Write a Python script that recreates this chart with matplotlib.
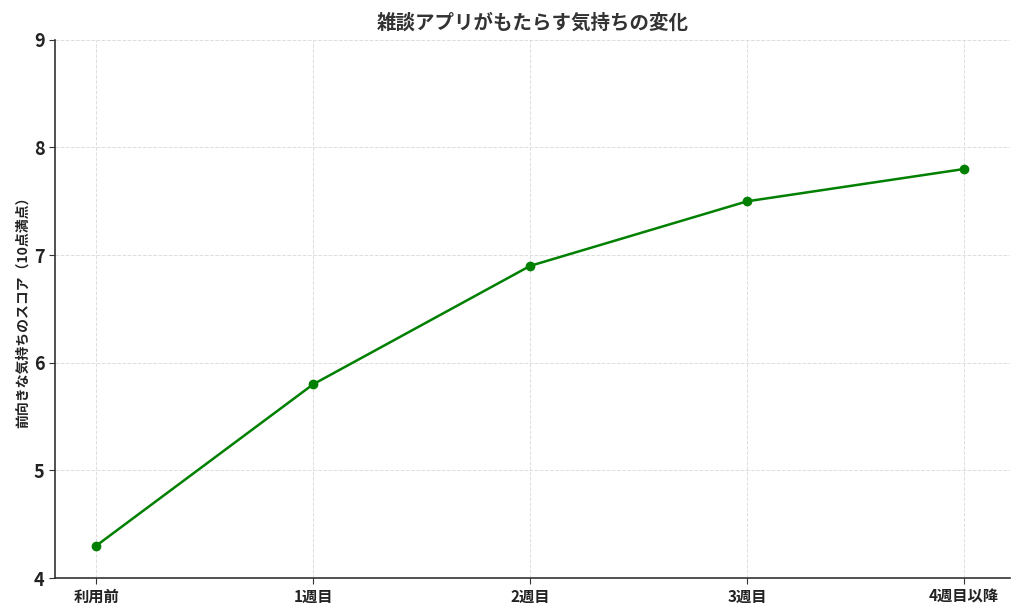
import matplotlib
matplotlib.use("Agg")
import matplotlib.pyplot as plt

categories = ["利用前", "1週目", "2週目", "3週目", "4週目以降"]
scores = [4.3, 5.8, 6.9, 7.5, 7.8]
yticks = [4, 5, 6, 7, 8, 9]

plt.rcParams['font.family'] = ['Noto Sans CJK JP', 'DejaVu Sans']

fig = plt.figure(figsize=(10.24, 6.14), dpi=100)
ax = fig.add_axes([0.0537, 0.0586, 0.9323, 0.8765])

x = list(range(len(categories)))
ax.plot(x, scores, color='green', linewidth=1.8, marker='o', markersize=6)

ax.set_xticks(x)
ax.set_xticklabels(categories, fontsize=11, fontweight='bold', color='#222222')
ax.set_yticks(yticks)
ax.set_yticklabels([str(v) for v in yticks], fontsize=13, fontweight='bold', color='#222222')
ax.set_ylim(4, 9)
ax.set_xlim(-0.19, 4.21)

ax.set_title("雑談アプリがもたらす気持ちの変化", fontsize=14, fontweight='bold', color='#333333', pad=8)
ax.set_ylabel("前向きな気持ちのスコア（10点満点）", fontsize=10, fontweight='bold', color='#222222', labelpad=3)

ax.grid(True, linestyle='--', color='#dddddd', linewidth=0.7)
ax.set_axisbelow(True)
for s in ['top', 'right']:
    ax.spines[s].set_visible(False)
for s in ['left', 'bottom']:
    ax.spines[s].set_color('#333333')
    ax.spines[s].set_linewidth(1.2)
ax.tick_params(axis='both', color='#333333', length=4)

fig.savefig("out.png", dpi=100)
